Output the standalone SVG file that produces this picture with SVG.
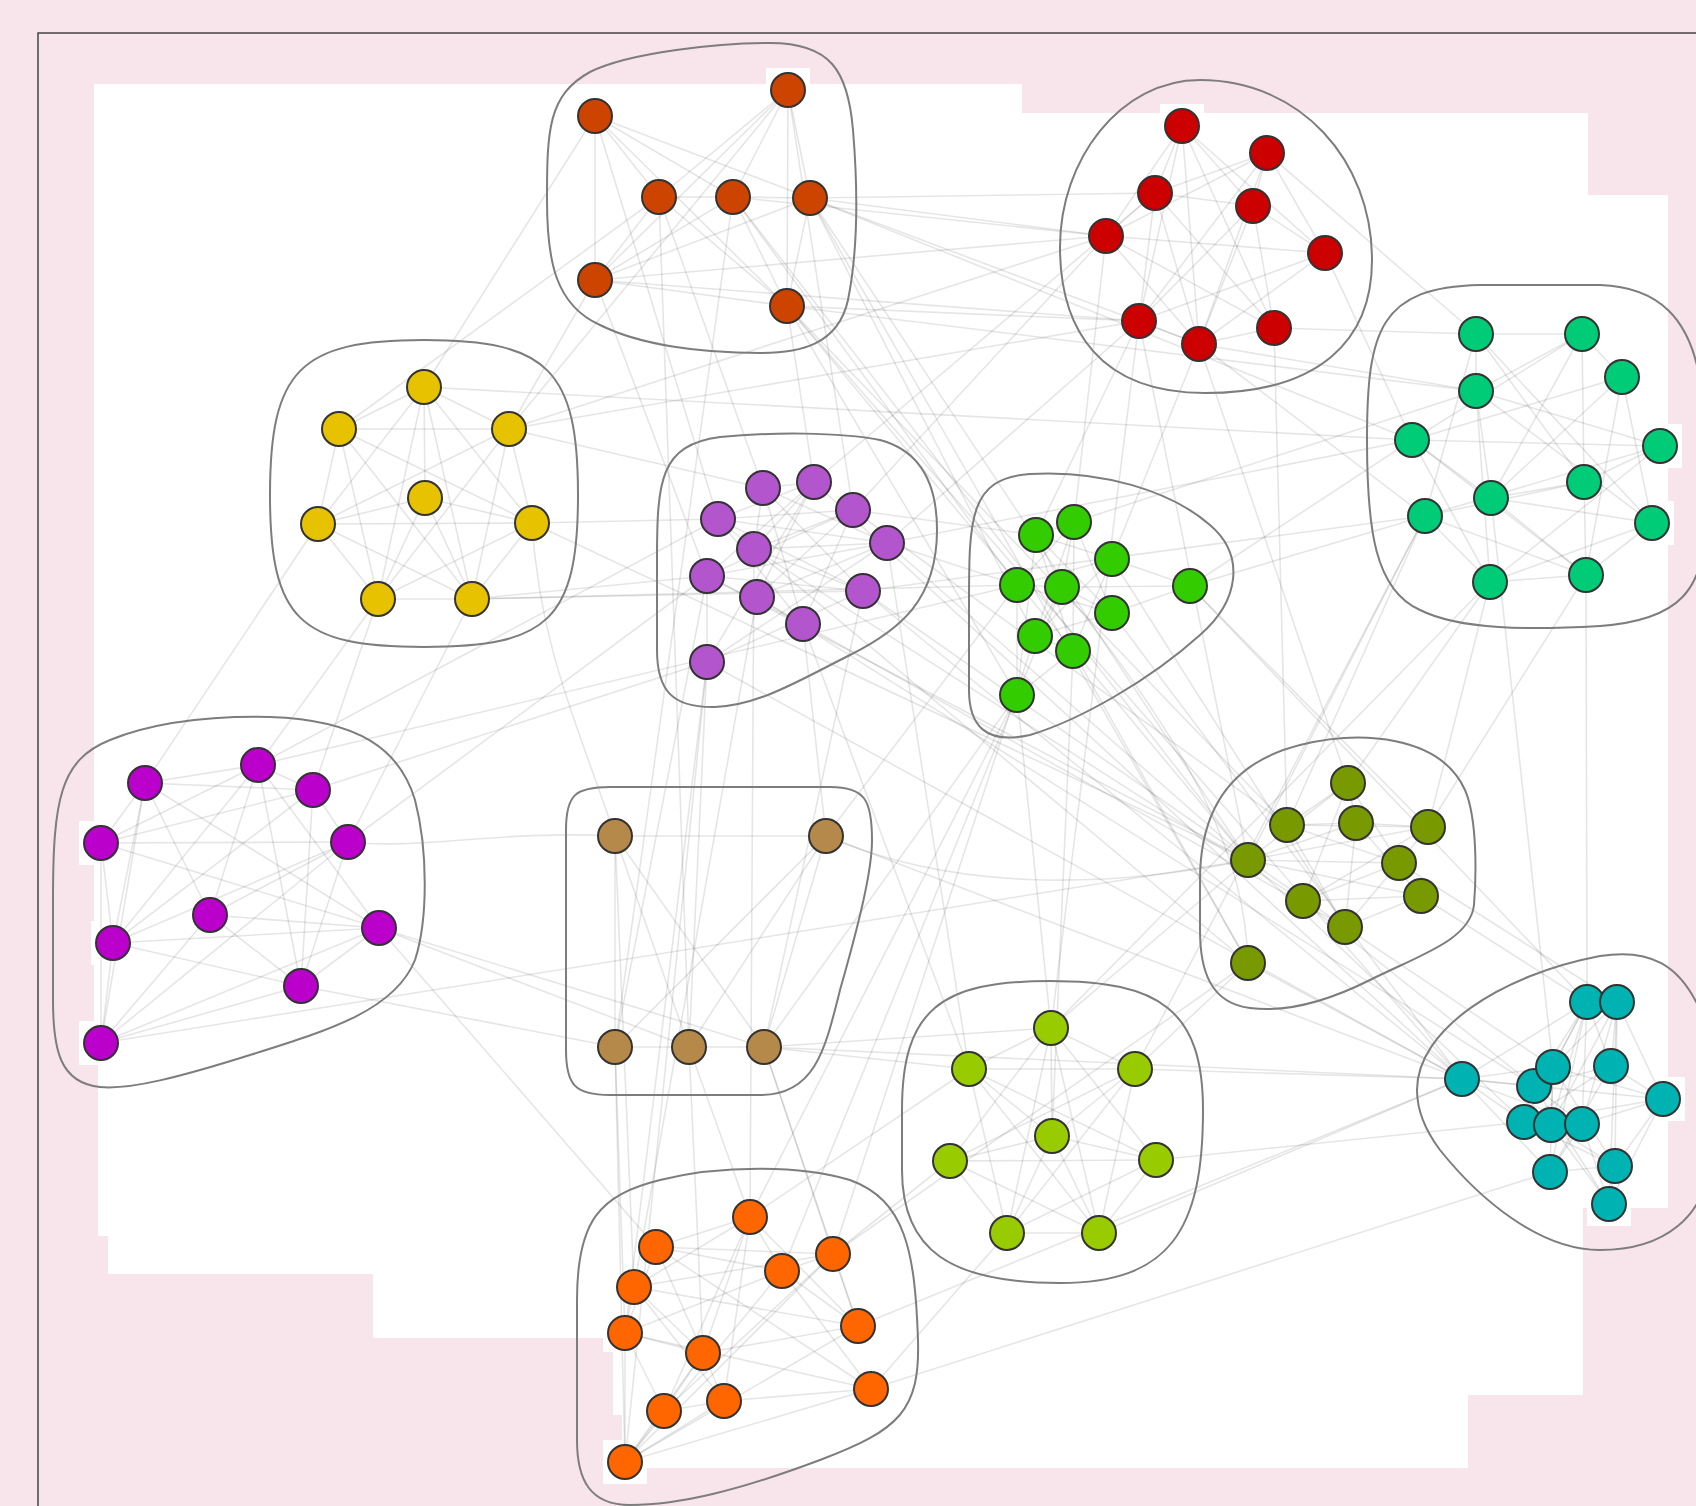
<svg xmlns="http://www.w3.org/2000/svg" width="1696" height="1506" viewBox="0 0 1696 1506">
<style>
.e line,.e path{stroke:#000;stroke-opacity:0.1;stroke-width:1.6;fill:none}
.hull{fill:none;stroke:#7d7d7d;stroke-width:2}
.nb rect{fill:#fff}
circle{stroke:#333;stroke-width:2}
.A{fill:#cc4400}.B{fill:#cc0000}.C{fill:#00cc77}.D{fill:#e6c200}.E{fill:#b355cc}.F{fill:#33cc00}
.G{fill:#bb00cc}.H{fill:#b5894a}.I{fill:#789900}.J{fill:#00b3b3}.K{fill:#99cc00}.L{fill:#ff6600}
</style>
<rect x="0" y="0" width="1696" height="1506" fill="#f8e5eb"/>
<path d="M38,1510 L38,33 L1700,33" fill="none" stroke="#444" stroke-width="1.5"/>
<polygon fill="#fff" points="94,84 1022,84 1022,113 1588,113 1588,195 1668,195 1668,1208 1583,1208 1583,1395 1468,1395 1468,1468 622,1468 622,1415 613,1415 613,1352 603,1352 603,1338 373,1338 373,1274 108,1274 108,1236 98,1236 98,1063 94,1063"/>
<g class="nb">
<rect x="573" y="94" width="44" height="44"/><rect x="766" y="68" width="44" height="44"/><rect x="637" y="175" width="44" height="44"/><rect x="711" y="175" width="44" height="44"/><rect x="788" y="176" width="44" height="44"/><rect x="573" y="258" width="44" height="44"/><rect x="765" y="284" width="44" height="44"/>
<rect x="1160" y="104" width="44" height="44"/><rect x="1638" y="424" width="44" height="44"/><rect x="1630" y="501" width="44" height="44"/>
<rect x="79" y="821" width="44" height="44"/><rect x="91" y="921" width="44" height="44"/><rect x="79" y="1021" width="44" height="44"/>
<rect x="1641" y="1077" width="44" height="44"/><rect x="1587" y="1182" width="44" height="44"/><rect x="603" y="1440" width="44" height="44"/>
</g>
<g id="connectors" class="e">
<line x1="595" y1="116" x2="659" y2="197"/><line x1="595" y1="116" x2="733" y2="197"/><line x1="595" y1="116" x2="810" y2="198"/><line x1="595" y1="116" x2="595" y2="280"/><line x1="595" y1="116" x2="787" y2="306"/><line x1="788" y1="90" x2="659" y2="197"/><line x1="788" y1="90" x2="733" y2="197"/><line x1="788" y1="90" x2="810" y2="198"/><line x1="788" y1="90" x2="595" y2="280"/><line x1="788" y1="90" x2="787" y2="306"/><line x1="659" y1="197" x2="733" y2="197"/><line x1="659" y1="197" x2="787" y2="306"/><line x1="733" y1="197" x2="810" y2="198"/><line x1="733" y1="197" x2="787" y2="306"/><line x1="810" y1="198" x2="787" y2="306"/><line x1="595" y1="280" x2="787" y2="306"/><line x1="595" y1="280" x2="810" y2="198"/><line x1="659" y1="197" x2="595" y2="280"/><line x1="733" y1="197" x2="595" y2="280"/>
<line x1="1182" y1="126" x2="1155" y2="193"/><line x1="1182" y1="126" x2="1253" y2="206"/><line x1="1182" y1="126" x2="1106" y2="236"/><line x1="1182" y1="126" x2="1139" y2="321"/><line x1="1182" y1="126" x2="1199" y2="344"/><line x1="1182" y1="126" x2="1274" y2="328"/><line x1="1182" y1="126" x2="1325" y2="253"/><line x1="1267" y1="153" x2="1155" y2="193"/><line x1="1267" y1="153" x2="1253" y2="206"/><line x1="1267" y1="153" x2="1106" y2="236"/><line x1="1267" y1="153" x2="1139" y2="321"/><line x1="1267" y1="153" x2="1199" y2="344"/><line x1="1267" y1="153" x2="1325" y2="253"/><line x1="1155" y1="193" x2="1106" y2="236"/><line x1="1155" y1="193" x2="1253" y2="206"/><line x1="1155" y1="193" x2="1199" y2="344"/><line x1="1155" y1="193" x2="1139" y2="321"/><line x1="1253" y1="206" x2="1139" y2="321"/><line x1="1253" y1="206" x2="1199" y2="344"/><line x1="1253" y1="206" x2="1274" y2="328"/><line x1="1253" y1="206" x2="1325" y2="253"/><line x1="1106" y1="236" x2="1274" y2="328"/><line x1="1106" y1="236" x2="1199" y2="344"/><line x1="1325" y1="253" x2="1139" y2="321"/><line x1="1325" y1="253" x2="1199" y2="344"/><line x1="1139" y1="321" x2="1199" y2="344"/><line x1="1199" y1="344" x2="1274" y2="328"/><line x1="1106" y1="236" x2="1325" y2="253"/><line x1="1155" y1="193" x2="1274" y2="328"/>
<line x1="1476" y1="334" x2="1582" y2="334"/><line x1="1476" y1="334" x2="1476" y2="391"/><line x1="1476" y1="334" x2="1584" y2="482"/><line x1="1476" y1="334" x2="1425" y2="516"/><line x1="1476" y1="334" x2="1652" y2="523"/><line x1="1582" y1="334" x2="1622" y2="377"/><line x1="1582" y1="334" x2="1476" y2="391"/><line x1="1582" y1="334" x2="1412" y2="440"/><line x1="1582" y1="334" x2="1584" y2="482"/><line x1="1582" y1="334" x2="1491" y2="498"/><line x1="1622" y1="377" x2="1412" y2="440"/><line x1="1622" y1="377" x2="1491" y2="498"/><line x1="1622" y1="377" x2="1652" y2="523"/><line x1="1622" y1="377" x2="1586" y2="575"/><line x1="1476" y1="391" x2="1660" y2="446"/><line x1="1476" y1="391" x2="1491" y2="498"/><line x1="1476" y1="391" x2="1490" y2="582"/><line x1="1412" y1="440" x2="1491" y2="498"/><line x1="1412" y1="440" x2="1660" y2="446"/><line x1="1412" y1="440" x2="1490" y2="582"/><line x1="1412" y1="440" x2="1586" y2="575"/><line x1="1660" y1="446" x2="1584" y2="482"/><line x1="1660" y1="446" x2="1425" y2="516"/><line x1="1660" y1="446" x2="1490" y2="582"/><line x1="1584" y1="482" x2="1491" y2="498"/><line x1="1584" y1="482" x2="1586" y2="575"/><line x1="1584" y1="482" x2="1425" y2="516"/><line x1="1491" y1="498" x2="1652" y2="523"/><line x1="1425" y1="516" x2="1490" y2="582"/><line x1="1652" y1="523" x2="1490" y2="582"/><line x1="1490" y1="582" x2="1586" y2="575"/><line x1="1491" y1="498" x2="1586" y2="575"/><line x1="1425" y1="516" x2="1586" y2="575"/><line x1="1652" y1="523" x2="1586" y2="575"/><line x1="1476" y1="391" x2="1652" y2="523"/>
<line x1="424" y1="387" x2="339" y2="429"/><line x1="424" y1="387" x2="509" y2="429"/><line x1="424" y1="387" x2="425" y2="498"/><line x1="424" y1="387" x2="318" y2="524"/><line x1="424" y1="387" x2="532" y2="523"/><line x1="424" y1="387" x2="378" y2="599"/><line x1="424" y1="387" x2="472" y2="599"/><line x1="339" y1="429" x2="509" y2="429"/><line x1="339" y1="429" x2="532" y2="523"/><line x1="339" y1="429" x2="472" y2="599"/><line x1="339" y1="429" x2="378" y2="599"/><line x1="509" y1="429" x2="318" y2="524"/><line x1="509" y1="429" x2="378" y2="599"/><line x1="509" y1="429" x2="472" y2="599"/><line x1="509" y1="429" x2="532" y2="523"/><line x1="425" y1="498" x2="318" y2="524"/><line x1="425" y1="498" x2="532" y2="523"/><line x1="425" y1="498" x2="378" y2="599"/><line x1="425" y1="498" x2="472" y2="599"/><line x1="318" y1="524" x2="532" y2="523"/><line x1="318" y1="524" x2="472" y2="599"/><line x1="318" y1="524" x2="378" y2="599"/><line x1="532" y1="523" x2="378" y2="599"/><line x1="378" y1="599" x2="472" y2="599"/><line x1="532" y1="523" x2="472" y2="599"/><line x1="339" y1="429" x2="318" y2="524"/>
<line x1="763" y1="488" x2="814" y2="482"/><line x1="763" y1="488" x2="754" y2="549"/><line x1="763" y1="488" x2="863" y2="591"/><line x1="763" y1="488" x2="803" y2="624"/><line x1="814" y1="482" x2="718" y2="519"/><line x1="814" y1="482" x2="707" y2="576"/><line x1="814" y1="482" x2="757" y2="597"/><line x1="814" y1="482" x2="707" y2="662"/><line x1="718" y1="519" x2="853" y2="510"/><line x1="718" y1="519" x2="887" y2="543"/><line x1="718" y1="519" x2="863" y2="591"/><line x1="853" y1="510" x2="754" y2="549"/><line x1="853" y1="510" x2="707" y2="576"/><line x1="853" y1="510" x2="803" y2="624"/><line x1="754" y1="549" x2="887" y2="543"/><line x1="754" y1="549" x2="863" y2="591"/><line x1="887" y1="543" x2="707" y2="576"/><line x1="887" y1="543" x2="757" y2="597"/><line x1="887" y1="543" x2="707" y2="662"/><line x1="707" y1="576" x2="863" y2="591"/><line x1="707" y1="576" x2="707" y2="662"/><line x1="757" y1="597" x2="803" y2="624"/><line x1="757" y1="597" x2="853" y2="510"/><line x1="863" y1="591" x2="707" y2="662"/><line x1="803" y1="624" x2="718" y2="519"/><line x1="763" y1="488" x2="887" y2="543"/><line x1="814" y1="482" x2="754" y2="549"/><line x1="707" y1="576" x2="803" y2="624"/>
<line x1="1036" y1="535" x2="1074" y2="522"/><line x1="1036" y1="535" x2="1112" y2="559"/><line x1="1036" y1="535" x2="1062" y2="587"/><line x1="1036" y1="535" x2="1112" y2="613"/><line x1="1036" y1="535" x2="1073" y2="651"/><line x1="1074" y1="522" x2="1017" y2="585"/><line x1="1074" y1="522" x2="1062" y2="587"/><line x1="1074" y1="522" x2="1035" y2="636"/><line x1="1074" y1="522" x2="1112" y2="613"/><line x1="1112" y1="559" x2="1017" y2="585"/><line x1="1112" y1="559" x2="1190" y2="586"/><line x1="1112" y1="559" x2="1035" y2="636"/><line x1="1112" y1="559" x2="1073" y2="651"/><line x1="1017" y1="585" x2="1062" y2="587"/><line x1="1017" y1="585" x2="1112" y2="613"/><line x1="1017" y1="585" x2="1017" y2="695"/><line x1="1062" y1="587" x2="1112" y2="613"/><line x1="1062" y1="587" x2="1035" y2="636"/><line x1="1062" y1="587" x2="1017" y2="695"/><line x1="1190" y1="586" x2="1112" y2="613"/><line x1="1190" y1="586" x2="1062" y2="587"/><line x1="1112" y1="613" x2="1035" y2="636"/><line x1="1035" y1="636" x2="1073" y2="651"/><line x1="1073" y1="651" x2="1017" y2="695"/><line x1="1036" y1="535" x2="1017" y2="695"/><line x1="1074" y1="522" x2="1073" y2="651"/>
<line x1="145" y1="783" x2="258" y2="765"/><line x1="145" y1="783" x2="313" y2="790"/><line x1="145" y1="783" x2="101" y2="843"/><line x1="145" y1="783" x2="379" y2="928"/><line x1="145" y1="783" x2="210" y2="915"/><line x1="145" y1="783" x2="101" y2="1043"/><line x1="258" y1="765" x2="313" y2="790"/><line x1="258" y1="765" x2="101" y2="843"/><line x1="258" y1="765" x2="210" y2="915"/><line x1="258" y1="765" x2="113" y2="943"/><line x1="258" y1="765" x2="301" y2="986"/><line x1="258" y1="765" x2="379" y2="928"/><line x1="313" y1="790" x2="101" y2="843"/><line x1="313" y1="790" x2="348" y2="842"/><line x1="313" y1="790" x2="301" y2="986"/><line x1="313" y1="790" x2="113" y2="943"/><line x1="101" y1="843" x2="348" y2="842"/><line x1="101" y1="843" x2="113" y2="943"/><line x1="101" y1="843" x2="379" y2="928"/><line x1="348" y1="842" x2="210" y2="915"/><line x1="348" y1="842" x2="113" y2="943"/><line x1="348" y1="842" x2="301" y2="986"/><line x1="348" y1="842" x2="101" y2="1043"/><line x1="210" y1="915" x2="379" y2="928"/><line x1="210" y1="915" x2="301" y2="986"/><line x1="210" y1="915" x2="101" y2="1043"/><line x1="113" y1="943" x2="379" y2="928"/><line x1="113" y1="943" x2="301" y2="986"/><line x1="379" y1="928" x2="301" y2="986"/><line x1="379" y1="928" x2="101" y2="1043"/><line x1="301" y1="986" x2="101" y2="1043"/><line x1="113" y1="943" x2="101" y2="1043"/><line x1="101" y1="843" x2="101" y2="1043"/><line x1="145" y1="783" x2="113" y2="943"/>
<line x1="615" y1="836" x2="826" y2="836"/><line x1="615" y1="836" x2="615" y2="1047"/><line x1="615" y1="836" x2="689" y2="1047"/><line x1="615" y1="836" x2="764" y2="1047"/><line x1="826" y1="836" x2="689" y2="1047"/><line x1="826" y1="836" x2="764" y2="1047"/><line x1="615" y1="1047" x2="689" y2="1047"/><line x1="689" y1="1047" x2="764" y2="1047"/><line x1="826" y1="836" x2="615" y2="1047"/>
<line x1="1348" y1="783" x2="1287" y2="825"/><line x1="1348" y1="783" x2="1356" y2="823"/><line x1="1348" y1="783" x2="1248" y2="860"/><line x1="1348" y1="783" x2="1303" y2="901"/><line x1="1287" y1="825" x2="1356" y2="823"/><line x1="1287" y1="825" x2="1428" y2="827"/><line x1="1287" y1="825" x2="1399" y2="863"/><line x1="1287" y1="825" x2="1345" y2="927"/><line x1="1356" y1="823" x2="1428" y2="827"/><line x1="1356" y1="823" x2="1248" y2="860"/><line x1="1356" y1="823" x2="1421" y2="896"/><line x1="1356" y1="823" x2="1345" y2="927"/><line x1="1428" y1="827" x2="1248" y2="860"/><line x1="1428" y1="827" x2="1399" y2="863"/><line x1="1428" y1="827" x2="1303" y2="901"/><line x1="1248" y1="860" x2="1399" y2="863"/><line x1="1248" y1="860" x2="1421" y2="896"/><line x1="1248" y1="860" x2="1345" y2="927"/><line x1="1399" y1="863" x2="1303" y2="901"/><line x1="1399" y1="863" x2="1345" y2="927"/><line x1="1303" y1="901" x2="1421" y2="896"/><line x1="1421" y1="896" x2="1345" y2="927"/><line x1="1348" y1="783" x2="1399" y2="863"/>
<line x1="1587" y1="1002" x2="1462" y2="1079"/><line x1="1587" y1="1002" x2="1553" y2="1067"/><line x1="1587" y1="1002" x2="1534" y2="1086"/><line x1="1587" y1="1002" x2="1611" y2="1066"/><line x1="1587" y1="1002" x2="1524" y2="1122"/><line x1="1587" y1="1002" x2="1551" y2="1125"/><line x1="1587" y1="1002" x2="1582" y2="1124"/><line x1="1587" y1="1002" x2="1550" y2="1172"/><line x1="1617" y1="1002" x2="1553" y2="1067"/><line x1="1617" y1="1002" x2="1611" y2="1066"/><line x1="1617" y1="1002" x2="1663" y2="1099"/><line x1="1617" y1="1002" x2="1551" y2="1125"/><line x1="1617" y1="1002" x2="1582" y2="1124"/><line x1="1617" y1="1002" x2="1615" y2="1166"/><line x1="1617" y1="1002" x2="1609" y2="1204"/><line x1="1462" y1="1079" x2="1553" y2="1067"/><line x1="1462" y1="1079" x2="1534" y2="1086"/><line x1="1462" y1="1079" x2="1663" y2="1099"/><line x1="1462" y1="1079" x2="1524" y2="1122"/><line x1="1462" y1="1079" x2="1582" y2="1124"/><line x1="1553" y1="1067" x2="1663" y2="1099"/><line x1="1553" y1="1067" x2="1551" y2="1125"/><line x1="1553" y1="1067" x2="1550" y2="1172"/><line x1="1553" y1="1067" x2="1615" y2="1166"/><line x1="1534" y1="1086" x2="1611" y2="1066"/><line x1="1534" y1="1086" x2="1582" y2="1124"/><line x1="1534" y1="1086" x2="1609" y2="1204"/><line x1="1611" y1="1066" x2="1663" y2="1099"/><line x1="1611" y1="1066" x2="1524" y2="1122"/><line x1="1611" y1="1066" x2="1550" y2="1172"/><line x1="1663" y1="1099" x2="1524" y2="1122"/><line x1="1663" y1="1099" x2="1582" y2="1124"/><line x1="1663" y1="1099" x2="1615" y2="1166"/><line x1="1663" y1="1099" x2="1609" y2="1204"/><line x1="1524" y1="1122" x2="1615" y2="1166"/><line x1="1551" y1="1125" x2="1615" y2="1166"/><line x1="1551" y1="1125" x2="1609" y2="1204"/><line x1="1582" y1="1124" x2="1550" y2="1172"/><line x1="1550" y1="1172" x2="1615" y2="1166"/><line x1="1615" y1="1166" x2="1609" y2="1204"/><line x1="1582" y1="1124" x2="1609" y2="1204"/><line x1="1462" y1="1079" x2="1550" y2="1172"/>
<line x1="1051" y1="1028" x2="969" y2="1069"/><line x1="1051" y1="1028" x2="1135" y2="1069"/><line x1="1051" y1="1028" x2="1052" y2="1136"/><line x1="1051" y1="1028" x2="950" y2="1161"/><line x1="1051" y1="1028" x2="1156" y2="1160"/><line x1="1051" y1="1028" x2="1007" y2="1233"/><line x1="1051" y1="1028" x2="1099" y2="1233"/><line x1="969" y1="1069" x2="1135" y2="1069"/><line x1="969" y1="1069" x2="1052" y2="1136"/><line x1="969" y1="1069" x2="1156" y2="1160"/><line x1="969" y1="1069" x2="1099" y2="1233"/><line x1="969" y1="1069" x2="1007" y2="1233"/><line x1="1135" y1="1069" x2="1052" y2="1136"/><line x1="1135" y1="1069" x2="950" y2="1161"/><line x1="1135" y1="1069" x2="1007" y2="1233"/><line x1="1135" y1="1069" x2="1099" y2="1233"/><line x1="1052" y1="1136" x2="950" y2="1161"/><line x1="1052" y1="1136" x2="1156" y2="1160"/><line x1="1052" y1="1136" x2="1007" y2="1233"/><line x1="1052" y1="1136" x2="1099" y2="1233"/><line x1="950" y1="1161" x2="1156" y2="1160"/><line x1="950" y1="1161" x2="1099" y2="1233"/><line x1="1156" y1="1160" x2="1007" y2="1233"/><line x1="1007" y1="1233" x2="1099" y2="1233"/><line x1="1156" y1="1160" x2="1099" y2="1233"/><line x1="950" y1="1161" x2="1007" y2="1233"/>
<line x1="750" y1="1217" x2="656" y2="1247"/><line x1="750" y1="1217" x2="782" y2="1271"/><line x1="750" y1="1217" x2="634" y2="1287"/><line x1="750" y1="1217" x2="858" y2="1326"/><line x1="750" y1="1217" x2="703" y2="1353"/><line x1="750" y1="1217" x2="664" y2="1411"/><line x1="750" y1="1217" x2="724" y2="1401"/><line x1="656" y1="1247" x2="833" y2="1254"/><line x1="656" y1="1247" x2="782" y2="1271"/><line x1="656" y1="1247" x2="625" y2="1333"/><line x1="656" y1="1247" x2="703" y2="1353"/><line x1="656" y1="1247" x2="871" y2="1389"/><line x1="833" y1="1254" x2="782" y2="1271"/><line x1="833" y1="1254" x2="634" y2="1287"/><line x1="833" y1="1254" x2="858" y2="1326"/><line x1="833" y1="1254" x2="664" y2="1411"/><line x1="833" y1="1254" x2="625" y2="1462"/><line x1="782" y1="1271" x2="625" y2="1333"/><line x1="782" y1="1271" x2="858" y2="1326"/><line x1="782" y1="1271" x2="871" y2="1389"/><line x1="782" y1="1271" x2="625" y2="1462"/><line x1="634" y1="1287" x2="625" y2="1333"/><line x1="634" y1="1287" x2="703" y2="1353"/><line x1="634" y1="1287" x2="724" y2="1401"/><line x1="634" y1="1287" x2="858" y2="1326"/><line x1="625" y1="1333" x2="703" y2="1353"/><line x1="625" y1="1333" x2="871" y2="1389"/><line x1="625" y1="1333" x2="625" y2="1462"/><line x1="858" y1="1326" x2="703" y2="1353"/><line x1="858" y1="1326" x2="625" y2="1462"/><line x1="703" y1="1353" x2="664" y2="1411"/><line x1="703" y1="1353" x2="724" y2="1401"/><line x1="703" y1="1353" x2="625" y2="1462"/><line x1="871" y1="1389" x2="724" y2="1401"/><line x1="871" y1="1389" x2="625" y2="1462"/><line x1="664" y1="1411" x2="724" y2="1401"/><line x1="664" y1="1411" x2="625" y2="1462"/><line x1="724" y1="1401" x2="625" y2="1462"/><line x1="625" y1="1333" x2="664" y2="1411"/>
<line x1="810" y1="198" x2="1106" y2="236"/><line x1="810" y1="198" x2="1155" y2="193"/><line x1="787" y1="306" x2="1139" y2="321"/><line x1="810" y1="198" x2="1199" y2="344"/><line x1="733" y1="197" x2="1106" y2="236"/><line x1="595" y1="280" x2="1139" y2="321"/><line x1="595" y1="280" x2="1106" y2="236"/>
<line x1="810" y1="198" x2="1248" y2="860"/><line x1="787" y1="306" x2="1287" y2="825"/><line x1="810" y1="198" x2="1248" y2="963"/><line x1="787" y1="306" x2="1248" y2="860"/><line x1="733" y1="197" x2="1017" y2="585"/><line x1="810" y1="198" x2="1035" y2="636"/><line x1="787" y1="306" x2="1017" y2="695"/><line x1="733" y1="197" x2="1248" y2="860"/>
<line x1="788" y1="90" x2="509" y2="429"/><line x1="595" y1="280" x2="509" y2="429"/><line x1="595" y1="116" x2="424" y2="387"/><line x1="659" y1="197" x2="339" y2="429"/><line x1="659" y1="197" x2="689" y2="1047"/><line x1="733" y1="197" x2="615" y2="1047"/><line x1="595" y1="116" x2="718" y2="519"/><line x1="659" y1="197" x2="763" y2="488"/><line x1="787" y1="306" x2="814" y2="482"/><line x1="595" y1="280" x2="707" y2="576"/><line x1="787" y1="306" x2="1462" y2="1079"/><line x1="810" y1="198" x2="1412" y2="440"/><line x1="787" y1="306" x2="1476" y2="391"/><line x1="788" y1="90" x2="853" y2="510"/>
<line x1="1199" y1="344" x2="1476" y2="391"/><line x1="1325" y1="253" x2="1412" y2="440"/><line x1="1274" y1="328" x2="1476" y2="334"/><line x1="1267" y1="153" x2="1476" y2="334"/><line x1="1199" y1="344" x2="1425" y2="516"/><line x1="1139" y1="321" x2="1036" y2="535"/><line x1="1106" y1="236" x2="1074" y2="522"/><line x1="1199" y1="344" x2="1112" y2="559"/><line x1="1274" y1="328" x2="1287" y2="825"/><line x1="1139" y1="321" x2="1248" y2="860"/><line x1="1199" y1="344" x2="1348" y2="783"/><line x1="1106" y1="236" x2="853" y2="510"/><line x1="1155" y1="193" x2="814" y2="482"/><line x1="1139" y1="321" x2="887" y2="543"/><line x1="1106" y1="236" x2="509" y2="429"/><line x1="1139" y1="321" x2="1051" y2="1028"/>
<line x1="1490" y1="582" x2="1348" y2="783"/><line x1="1425" y1="516" x2="1287" y2="825"/><line x1="1586" y1="575" x2="1428" y2="827"/><line x1="1586" y1="575" x2="1587" y2="1002"/><line x1="1491" y1="498" x2="1553" y2="1067"/><line x1="1425" y1="516" x2="1248" y2="860"/><line x1="1490" y1="582" x2="1428" y2="827"/><line x1="1412" y1="440" x2="1190" y2="586"/><line x1="1412" y1="440" x2="887" y2="543"/><line x1="1476" y1="391" x2="1074" y2="522"/><line x1="1425" y1="516" x2="1190" y2="586"/><line x1="1425" y1="516" x2="1135" y2="1069"/><line x1="1490" y1="582" x2="1051" y2="1028"/><line x1="1425" y1="516" x2="863" y2="591"/>
<line x1="378" y1="599" x2="258" y2="765"/><line x1="318" y1="524" x2="145" y2="783"/><line x1="378" y1="599" x2="313" y2="790"/><line x1="472" y1="599" x2="348" y2="842"/><line x1="472" y1="599" x2="707" y2="576"/><line x1="532" y1="523" x2="718" y2="519"/><line x1="509" y1="429" x2="763" y2="488"/><line x1="472" y1="599" x2="1017" y2="585"/><line x1="532" y1="523" x2="1248" y2="860"/><line x1="472" y1="599" x2="863" y2="591"/><line x1="424" y1="387" x2="1412" y2="440"/><line x1="509" y1="429" x2="1139" y2="321"/>
<line x1="707" y1="576" x2="1248" y2="860"/><line x1="718" y1="519" x2="1248" y2="963"/><line x1="754" y1="549" x2="1303" y2="901"/><line x1="707" y1="662" x2="1462" y2="1079"/><line x1="757" y1="597" x2="1534" y2="1086"/><line x1="803" y1="624" x2="1345" y2="927"/><line x1="863" y1="591" x2="1462" y2="1079"/><line x1="707" y1="576" x2="348" y2="842"/><line x1="707" y1="662" x2="313" y2="790"/><line x1="718" y1="519" x2="258" y2="765"/><line x1="707" y1="662" x2="625" y2="1462"/><line x1="707" y1="662" x2="625" y2="1333"/><line x1="757" y1="597" x2="634" y2="1287"/><line x1="803" y1="624" x2="826" y2="836"/><line x1="707" y1="576" x2="615" y2="1047"/><line x1="707" y1="662" x2="689" y2="1047"/><line x1="863" y1="591" x2="764" y2="1047"/><line x1="887" y1="543" x2="969" y2="1069"/><line x1="887" y1="543" x2="1017" y2="585"/><line x1="853" y1="510" x2="1036" y2="535"/><line x1="887" y1="543" x2="1248" y2="860"/><line x1="863" y1="591" x2="1248" y2="860"/><line x1="853" y1="510" x2="1287" y2="825"/><line x1="814" y1="482" x2="1462" y2="1079"/>
<line x1="1017" y1="695" x2="1051" y2="1028"/><line x1="1017" y1="695" x2="750" y2="1217"/><line x1="1035" y1="636" x2="833" y2="1254"/><line x1="1190" y1="586" x2="1428" y2="827"/><line x1="1190" y1="586" x2="1587" y2="1002"/><line x1="1112" y1="559" x2="1345" y2="927"/><line x1="1112" y1="613" x2="1462" y2="1079"/><line x1="1073" y1="651" x2="1248" y2="963"/><line x1="1073" y1="651" x2="1052" y2="1136"/><line x1="1017" y1="585" x2="826" y2="836"/><line x1="1017" y1="695" x2="764" y2="1047"/><line x1="258" y1="765" x2="1017" y2="585"/>
<line x1="379" y1="928" x2="689" y2="1047"/><line x1="379" y1="928" x2="656" y2="1247"/><line x1="379" y1="928" x2="764" y2="1047"/><line x1="301" y1="986" x2="615" y2="1047"/><line x1="101" y1="1043" x2="1248" y2="860"/>
<line x1="764" y1="1047" x2="969" y2="1069"/><line x1="764" y1="1047" x2="1462" y2="1079"/><line x1="764" y1="1047" x2="1051" y2="1028"/><line x1="826" y1="836" x2="1462" y2="1079"/><line x1="689" y1="1047" x2="750" y2="1217"/><line x1="615" y1="1047" x2="625" y2="1462"/><line x1="764" y1="1047" x2="858" y2="1326"/><line x1="615" y1="836" x2="634" y2="1287"/><line x1="615" y1="1047" x2="625" y2="1333"/><line x1="689" y1="1047" x2="703" y2="1353"/><line x1="764" y1="1047" x2="833" y2="1254"/>
<line x1="1248" y1="963" x2="1462" y2="1079"/><line x1="1345" y1="927" x2="1553" y2="1067"/><line x1="1421" y1="896" x2="1587" y2="1002"/><line x1="1303" y1="901" x2="1534" y2="1086"/><line x1="1248" y1="860" x2="1524" y2="1122"/><line x1="1399" y1="863" x2="1617" y2="1002"/>
<line x1="1135" y1="1069" x2="1462" y2="1079"/><line x1="1156" y1="1160" x2="1524" y2="1122"/><line x1="1099" y1="1233" x2="1462" y2="1079"/><line x1="950" y1="1161" x2="833" y2="1254"/><line x1="969" y1="1069" x2="750" y2="1217"/><line x1="1007" y1="1233" x2="871" y2="1389"/><line x1="871" y1="1389" x2="1550" y2="1172"/><line x1="969" y1="1069" x2="803" y2="624"/><line x1="1135" y1="1069" x2="1248" y2="963"/><line x1="1051" y1="1028" x2="1248" y2="860"/><line x1="750" y1="1217" x2="754" y2="549"/><line x1="782" y1="1271" x2="1017" y2="695"/><line x1="833" y1="1254" x2="1248" y2="963"/><line x1="858" y1="1326" x2="1462" y2="1079"/>
<path d="M348 842 C420 850 500 830 615 836"/><path d="M532 523 C540 650 580 730 615 836"/><path d="M826 836 C950 890 1100 890 1248 860"/><path d="M1248 963 C1245 860 1200 760 1062 587"/>
</g>
<g id="hulls">
<path id="hull-A" class="hull" d="M547,200 C547,130 548,95 590,72 C630,52 720,43 770,43 C830,43 848,70 853,130 C858,190 858,250 848,300 C838,345 800,353 760,353 C700,353 640,345 600,325 C555,305 547,260 547,200 Z"/>
<path id="hull-B" class="hull" d="M1060,247 C1060,160 1120,80 1200,80 C1300,80 1372,160 1372,260 C1372,340 1320,393 1205,393 C1100,393 1060,330 1060,247 Z"/>
<path id="hull-C" class="hull" d="M1367,440 C1367,330 1380,287 1480,285 L1600,285 C1660,287 1690,320 1700,380 L1705,520 C1705,590 1680,620 1600,626 C1530,630 1460,630 1420,610 C1375,590 1367,530 1367,440 Z"/>
<path id="hull-D" class="hull" d="M270,495 C270,370 300,340 424,340 C548,340 578,370 578,495 C578,620 548,647 424,647 C300,647 270,620 270,495 Z"/>
<path id="hull-E" class="hull" d="M657,560 C657,480 660,445 720,437 C770,432 840,432 880,440 C925,452 937,490 937,530 C937,600 900,630 850,655 C800,680 760,705 715,707 C672,708 657,690 657,650 Z"/>
<path id="hull-F" class="hull" d="M969,610 C969,520 968,478 1030,474 C1100,470 1170,490 1210,525 C1245,555 1240,600 1200,635 C1150,680 1080,720 1030,735 C985,745 969,725 969,690 Z"/>
<path id="hull-G" class="hull" d="M53,900 C53,800 60,760 110,740 C160,720 220,716 270,717 C360,720 400,750 415,800 C428,850 428,920 415,960 C395,1010 330,1030 250,1055 C180,1077 130,1090 100,1087 C60,1083 53,1050 53,1000 Z"/>
<path id="hull-H" class="hull" d="M566,830 C566,795 575,787 610,787 L830,787 C865,787 872,800 872,840 C872,870 860,920 840,990 C825,1050 815,1095 760,1095 L610,1095 C575,1095 566,1085 566,1050 Z"/>
<path id="hull-I" class="hull" d="M1200,880 C1200,800 1240,760 1300,745 C1360,730 1440,735 1465,790 C1478,820 1476,880 1474,905 C1470,940 1420,955 1370,980 C1320,1005 1280,1012 1250,1008 C1210,1003 1200,970 1200,930 Z"/>
<path id="hull-J" class="hull" d="M1417,1090 C1417,1030 1500,975 1600,956 C1650,948 1680,965 1700,1010 L1710,1150 C1710,1220 1660,1250 1600,1250 C1540,1250 1480,1200 1440,1150 C1425,1130 1417,1110 1417,1090 Z"/>
<path id="hull-K" class="hull" d="M902,1110 C902,1010 940,981 1050,981 C1160,981 1203,1010 1203,1110 C1203,1230 1170,1283 1060,1283 C950,1283 902,1250 902,1170 Z"/>
<path id="hull-L" class="hull" d="M577,1300 C577,1220 600,1195 660,1180 C720,1165 800,1165 850,1180 C905,1200 915,1250 918,1340 C920,1410 900,1430 820,1460 C740,1490 680,1505 630,1505 C590,1505 577,1480 577,1440 Z"/>
</g>
<g id="nodes">
<g id="A1"><circle class="A" cx="595" cy="116" r="17"/></g><g id="A2"><circle class="A" cx="788" cy="90" r="17"/></g><g id="A3"><circle class="A" cx="659" cy="197" r="17"/></g><g id="A4"><circle class="A" cx="733" cy="197" r="17"/></g><g id="A5"><circle class="A" cx="810" cy="198" r="17"/></g><g id="A6"><circle class="A" cx="595" cy="280" r="17"/></g><g id="A7"><circle class="A" cx="787" cy="306" r="17"/></g>
<g id="B1"><circle class="B" cx="1182" cy="126" r="17"/></g><g id="B2"><circle class="B" cx="1267" cy="153" r="17"/></g><g id="B3"><circle class="B" cx="1155" cy="193" r="17"/></g><g id="B4"><circle class="B" cx="1253" cy="206" r="17"/></g><g id="B5"><circle class="B" cx="1106" cy="236" r="17"/></g><g id="B6"><circle class="B" cx="1325" cy="253" r="17"/></g><g id="B7"><circle class="B" cx="1139" cy="321" r="17"/></g><g id="B8"><circle class="B" cx="1199" cy="344" r="17"/></g><g id="B9"><circle class="B" cx="1274" cy="328" r="17"/></g>
<g id="C1"><circle class="C" cx="1476" cy="334" r="17"/></g><g id="C2"><circle class="C" cx="1582" cy="334" r="17"/></g><g id="C3"><circle class="C" cx="1622" cy="377" r="17"/></g><g id="C4"><circle class="C" cx="1476" cy="391" r="17"/></g><g id="C5"><circle class="C" cx="1412" cy="440" r="17"/></g><g id="C6"><circle class="C" cx="1660" cy="446" r="17"/></g><g id="C7"><circle class="C" cx="1584" cy="482" r="17"/></g><g id="C8"><circle class="C" cx="1491" cy="498" r="17"/></g><g id="C9"><circle class="C" cx="1425" cy="516" r="17"/></g><g id="C10"><circle class="C" cx="1652" cy="523" r="17"/></g><g id="C11"><circle class="C" cx="1490" cy="582" r="17"/></g><g id="C12"><circle class="C" cx="1586" cy="575" r="17"/></g>
<g id="D1"><circle class="D" cx="424" cy="387" r="17"/></g><g id="D2"><circle class="D" cx="339" cy="429" r="17"/></g><g id="D3"><circle class="D" cx="509" cy="429" r="17"/></g><g id="D4"><circle class="D" cx="425" cy="498" r="17"/></g><g id="D5"><circle class="D" cx="318" cy="524" r="17"/></g><g id="D6"><circle class="D" cx="532" cy="523" r="17"/></g><g id="D7"><circle class="D" cx="378" cy="599" r="17"/></g><g id="D8"><circle class="D" cx="472" cy="599" r="17"/></g>
<g id="E1"><circle class="E" cx="763" cy="488" r="17"/></g><g id="E2"><circle class="E" cx="814" cy="482" r="17"/></g><g id="E3"><circle class="E" cx="718" cy="519" r="17"/></g><g id="E4"><circle class="E" cx="853" cy="510" r="17"/></g><g id="E5"><circle class="E" cx="754" cy="549" r="17"/></g><g id="E6"><circle class="E" cx="887" cy="543" r="17"/></g><g id="E7"><circle class="E" cx="707" cy="576" r="17"/></g><g id="E8"><circle class="E" cx="757" cy="597" r="17"/></g><g id="E9"><circle class="E" cx="863" cy="591" r="17"/></g><g id="E10"><circle class="E" cx="803" cy="624" r="17"/></g><g id="E11"><circle class="E" cx="707" cy="662" r="17"/></g>
<g id="F1"><circle class="F" cx="1036" cy="535" r="17"/></g><g id="F2"><circle class="F" cx="1074" cy="522" r="17"/></g><g id="F3"><circle class="F" cx="1112" cy="559" r="17"/></g><g id="F4"><circle class="F" cx="1017" cy="585" r="17"/></g><g id="F5"><circle class="F" cx="1062" cy="587" r="17"/></g><g id="F6"><circle class="F" cx="1190" cy="586" r="17"/></g><g id="F7"><circle class="F" cx="1112" cy="613" r="17"/></g><g id="F8"><circle class="F" cx="1035" cy="636" r="17"/></g><g id="F9"><circle class="F" cx="1073" cy="651" r="17"/></g><g id="F10"><circle class="F" cx="1017" cy="695" r="17"/></g>
<g id="G1"><circle class="G" cx="145" cy="783" r="17"/></g><g id="G2"><circle class="G" cx="258" cy="765" r="17"/></g><g id="G3"><circle class="G" cx="313" cy="790" r="17"/></g><g id="G4"><circle class="G" cx="101" cy="843" r="17"/></g><g id="G5"><circle class="G" cx="348" cy="842" r="17"/></g><g id="G6"><circle class="G" cx="210" cy="915" r="17"/></g><g id="G7"><circle class="G" cx="113" cy="943" r="17"/></g><g id="G8"><circle class="G" cx="379" cy="928" r="17"/></g><g id="G9"><circle class="G" cx="301" cy="986" r="17"/></g><g id="G10"><circle class="G" cx="101" cy="1043" r="17"/></g>
<g id="H1"><circle class="H" cx="615" cy="836" r="17"/></g><g id="H2"><circle class="H" cx="826" cy="836" r="17"/></g><g id="H3"><circle class="H" cx="615" cy="1047" r="17"/></g><g id="H4"><circle class="H" cx="689" cy="1047" r="17"/></g><g id="H5"><circle class="H" cx="764" cy="1047" r="17"/></g>
<g id="I1"><circle class="I" cx="1348" cy="783" r="17"/></g><g id="I2"><circle class="I" cx="1287" cy="825" r="17"/></g><g id="I3"><circle class="I" cx="1356" cy="823" r="17"/></g><g id="I4"><circle class="I" cx="1428" cy="827" r="17"/></g><g id="I5"><circle class="I" cx="1248" cy="860" r="17"/></g><g id="I6"><circle class="I" cx="1399" cy="863" r="17"/></g><g id="I7"><circle class="I" cx="1303" cy="901" r="17"/></g><g id="I8"><circle class="I" cx="1421" cy="896" r="17"/></g><g id="I9"><circle class="I" cx="1345" cy="927" r="17"/></g><g id="I10"><circle class="I" cx="1248" cy="963" r="17"/></g>
<g id="J1"><circle class="J" cx="1587" cy="1002" r="17"/></g><g id="J2"><circle class="J" cx="1617" cy="1002" r="17"/></g><g id="J3"><circle class="J" cx="1462" cy="1079" r="17"/></g><g id="J5"><circle class="J" cx="1534" cy="1086" r="17"/></g><g id="J4"><circle class="J" cx="1553" cy="1067" r="17"/></g><g id="J6"><circle class="J" cx="1611" cy="1066" r="17"/></g><g id="J7"><circle class="J" cx="1663" cy="1099" r="17"/></g><g id="J8"><circle class="J" cx="1524" cy="1122" r="17"/></g><g id="J9"><circle class="J" cx="1551" cy="1125" r="17"/></g><g id="J10"><circle class="J" cx="1582" cy="1124" r="17"/></g><g id="J11"><circle class="J" cx="1550" cy="1172" r="17"/></g><g id="J12"><circle class="J" cx="1615" cy="1166" r="17"/></g><g id="J13"><circle class="J" cx="1609" cy="1204" r="17"/></g>
<g id="K1"><circle class="K" cx="1051" cy="1028" r="17"/></g><g id="K2"><circle class="K" cx="969" cy="1069" r="17"/></g><g id="K3"><circle class="K" cx="1135" cy="1069" r="17"/></g><g id="K4"><circle class="K" cx="1052" cy="1136" r="17"/></g><g id="K5"><circle class="K" cx="950" cy="1161" r="17"/></g><g id="K6"><circle class="K" cx="1156" cy="1160" r="17"/></g><g id="K7"><circle class="K" cx="1007" cy="1233" r="17"/></g><g id="K8"><circle class="K" cx="1099" cy="1233" r="17"/></g>
<g id="L1"><circle class="L" cx="750" cy="1217" r="17"/></g><g id="L2"><circle class="L" cx="656" cy="1247" r="17"/></g><g id="L3"><circle class="L" cx="833" cy="1254" r="17"/></g><g id="L4"><circle class="L" cx="782" cy="1271" r="17"/></g><g id="L5"><circle class="L" cx="634" cy="1287" r="17"/></g><g id="L6"><circle class="L" cx="625" cy="1333" r="17"/></g><g id="L7"><circle class="L" cx="858" cy="1326" r="17"/></g><g id="L8"><circle class="L" cx="703" cy="1353" r="17"/></g><g id="L9"><circle class="L" cx="871" cy="1389" r="17"/></g><g id="L10"><circle class="L" cx="664" cy="1411" r="17"/></g><g id="L11"><circle class="L" cx="724" cy="1401" r="17"/></g><g id="L12"><circle class="L" cx="625" cy="1462" r="17"/></g>
</g>
</svg>
